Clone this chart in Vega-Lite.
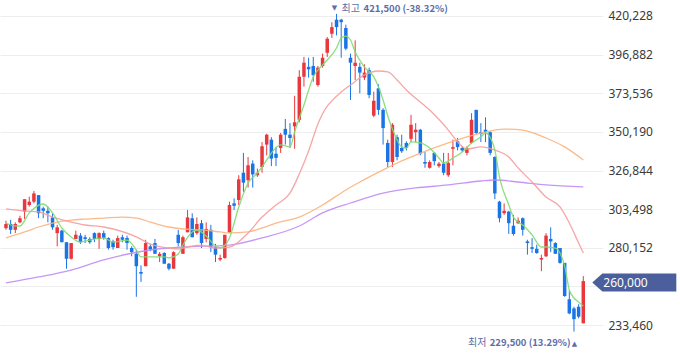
{
  "$schema": "https://vega.github.io/schema/vega-lite/v6.json",
  "width": 603,
  "height": 340,
  "autosize": {"type": "none"},
  "padding": {"left": 0, "top": 0, "right": 77, "bottom": 18},
  "background": "white",
  "config": {
    "view": {"stroke": null},
    "axis": {"title": null}
  },
  "datasets": {
    "candles": [
      {"i":0,"o":292000,"h":296500,"l":291000,"c":294500},
      {"i":1,"o":294500,"h":297000,"l":288500,"c":291000},
      {"i":2,"o":291000,"h":295500,"l":289000,"c":294500},
      {"i":3,"o":295500,"h":299500,"l":295000,"c":298000},
      {"i":4,"o":302000,"h":309500,"l":297500,"c":309500},
      {"i":5,"o":306000,"h":311000,"l":305000,"c":308000},
      {"i":6,"o":308000,"h":314500,"l":307000,"c":313000},
      {"i":7,"o":312000,"h":312000,"l":298000,"c":301000},
      {"i":8,"o":304000,"h":305000,"l":298000,"c":302500},
      {"i":9,"o":302500,"h":305000,"l":295500,"c":301000},
      {"i":10,"o":298500,"h":301000,"l":291000,"c":292500},
      {"i":11,"o":289000,"h":294000,"l":281000,"c":292500},
      {"i":12,"o":290500,"h":291000,"l":283500,"c":283500},
      {"i":13,"o":283500,"h":283500,"l":267500,"c":273500},
      {"i":14,"o":273500,"h":283000,"l":273000,"c":283000},
      {"i":15,"o":285500,"h":290500,"l":285500,"c":288000},
      {"i":16,"o":287500,"h":289000,"l":282500,"c":283500},
      {"i":17,"o":286500,"h":288000,"l":283000,"c":285500},
      {"i":18,"o":285500,"h":286500,"l":282500,"c":283500},
      {"i":19,"o":289000,"h":289500,"l":283500,"c":285500},
      {"i":20,"o":285500,"h":289500,"l":279500,"c":289000},
      {"i":21,"o":289000,"h":290500,"l":285000,"c":286000},
      {"i":22,"o":286000,"h":286500,"l":279000,"c":280000},
      {"i":23,"o":284000,"h":285000,"l":279000,"c":280500},
      {"i":24,"o":280000,"h":287500,"l":280000,"c":286000},
      {"i":25,"o":286500,"h":288000,"l":283500,"c":285000},
      {"i":26,"o":286000,"h":287500,"l":279000,"c":283000},
      {"i":27,"o":280000,"h":281000,"l":275000,"c":277500},
      {"i":28,"o":276500,"h":279000,"l":250500,"c":269000},
      {"i":29,"o":265500,"h":269500,"l":259500,"c":264500},
      {"i":30,"o":269000,"h":285000,"l":269000,"c":283000},
      {"i":31,"o":281000,"h":282500,"l":278000,"c":279000},
      {"i":32,"o":283000,"h":285500,"l":276500,"c":276500},
      {"i":33,"o":275000,"h":277500,"l":271500,"c":276500},
      {"i":34,"o":277000,"h":277500,"l":270500,"c":270500},
      {"i":35,"o":270500,"h":271000,"l":266500,"c":267500},
      {"i":36,"o":267500,"h":278000,"l":267500,"c":277500},
      {"i":37,"o":288000,"h":291000,"l":281000,"c":283000},
      {"i":38,"o":276500,"h":287500,"l":276500,"c":286500},
      {"i":39,"o":289500,"h":303000,"l":289500,"c":298500},
      {"i":40,"o":298000,"h":301000,"l":286500,"c":286500},
      {"i":41,"o":289000,"h":298500,"l":288000,"c":294500},
      {"i":42,"o":295000,"h":297000,"l":280000,"c":283000},
      {"i":43,"o":285500,"h":295500,"l":283500,"c":291500},
      {"i":44,"o":291000,"h":294000,"l":277500,"c":280500},
      {"i":45,"o":280500,"h":282500,"l":271500,"c":276000},
      {"i":46,"o":273000,"h":276000,"l":272000,"c":274000},
      {"i":47,"o":274000,"h":288000,"l":273500,"c":288000},
      {"i":48,"o":289500,"h":308000,"l":289000,"c":306000},
      {"i":49,"o":307000,"h":310000,"l":303000,"c":305500},
      {"i":50,"o":309000,"h":324000,"l":306000,"c":321500},
      {"i":51,"o":325500,"h":337500,"l":314000,"c":319500},
      {"i":52,"o":321000,"h":335000,"l":316500,"c":330000},
      {"i":53,"o":331000,"h":333000,"l":316500,"c":324500},
      {"i":54,"o":324000,"h":328000,"l":323000,"c":325500},
      {"i":55,"o":329000,"h":344000,"l":325500,"c":341500},
      {"i":56,"o":342500,"h":349000,"l":336000,"c":348500},
      {"i":57,"o":345500,"h":347000,"l":329500,"c":334000},
      {"i":58,"o":337000,"h":341000,"l":329500,"c":334500},
      {"i":59,"o":340500,"h":349500,"l":337500,"c":348500},
      {"i":60,"o":352000,"h":358000,"l":342500,"c":348500},
      {"i":61,"o":348500,"h":355500,"l":340500,"c":346500},
      {"i":62,"o":353500,"h":372000,"l":340000,"c":356000},
      {"i":63,"o":357500,"h":387500,"l":356000,"c":383500},
      {"i":64,"o":383500,"h":395500,"l":377500,"c":392000},
      {"i":65,"o":389500,"h":395000,"l":383000,"c":388000},
      {"i":66,"o":390000,"h":395500,"l":380500,"c":384500},
      {"i":67,"o":378500,"h":390000,"l":377500,"c":389000},
      {"i":68,"o":390000,"h":397500,"l":389000,"c":395000},
      {"i":69,"o":398000,"h":407500,"l":395500,"c":406500},
      {"i":70,"o":409500,"h":416500,"l":407000,"c":413500},
      {"i":71,"o":418000,"h":421500,"l":408500,"c":413500},
      {"i":72,"o":418000,"h":418500,"l":395000,"c":416500},
      {"i":73,"o":413000,"h":415000,"l":399500,"c":400500},
      {"i":74,"o":395000,"h":397500,"l":369500,"c":392000},
      {"i":75,"o":390000,"h":405500,"l":381500,"c":392000},
      {"i":76,"o":389500,"h":392000,"l":373500,"c":386000},
      {"i":77,"o":383000,"h":391000,"l":381500,"c":386000},
      {"i":78,"o":387500,"h":389000,"l":370500,"c":372500},
      {"i":79,"o":360000,"h":374500,"l":359000,"c":369000},
      {"i":80,"o":376500,"h":379000,"l":360500,"c":363500},
      {"i":81,"o":363500,"h":364500,"l":342500,"c":352500},
      {"i":82,"o":343500,"h":345500,"l":329000,"c":332000},
      {"i":83,"o":332000,"h":355500,"l":329000,"c":354500},
      {"i":84,"o":347000,"h":348500,"l":333000,"c":335000},
      {"i":85,"o":340500,"h":348500,"l":337500,"c":338500},
      {"i":86,"o":343500,"h":344500,"l":339000,"c":340500},
      {"i":87,"o":346000,"h":360500,"l":344000,"c":354500},
      {"i":88,"o":350000,"h":355500,"l":344000,"c":351500},
      {"i":89,"o":351500,"h":352000,"l":336000,"c":337000},
      {"i":90,"o":332000,"h":338000,"l":328500,"c":331000},
      {"i":91,"o":328500,"h":333000,"l":328000,"c":332000},
      {"i":92,"o":337500,"h":338000,"l":330000,"c":332500},
      {"i":93,"o":329500,"h":332000,"l":328500,"c":331000},
      {"i":94,"o":331000,"h":337500,"l":324000,"c":325500},
      {"i":95,"o":324000,"h":337500,"l":323000,"c":331500},
      {"i":96,"o":340000,"h":345500,"l":330000,"c":341000},
      {"i":97,"o":344500,"h":346500,"l":339000,"c":341000},
      {"i":98,"o":340500,"h":341500,"l":338000,"c":339000},
      {"i":99,"o":337500,"h":341500,"l":336000,"c":340500},
      {"i":100,"o":343500,"h":361500,"l":343000,"c":357500},
      {"i":101,"o":363500,"h":363500,"l":348500,"c":349500},
      {"i":102,"o":350000,"h":355500,"l":344000,"c":349000},
      {"i":103,"o":351500,"h":359000,"l":344000,"c":350000},
      {"i":104,"o":350000,"h":350500,"l":336000,"c":337500},
      {"i":105,"o":335000,"h":335500,"l":309500,"c":313000},
      {"i":106,"o":308000,"h":308500,"l":295500,"c":298000},
      {"i":107,"o":301000,"h":307000,"l":300000,"c":302500},
      {"i":108,"o":302000,"h":302500,"l":288500,"c":295000},
      {"i":109,"o":293500,"h":300000,"l":287500,"c":288500},
      {"i":110,"o":295000,"h":298500,"l":294500,"c":296500},
      {"i":111,"o":298000,"h":298500,"l":287500,"c":291000},
      {"i":112,"o":284000,"h":285000,"l":276000,"c":283000},
      {"i":113,"o":280500,"h":286000,"l":277000,"c":279500},
      {"i":114,"o":279500,"h":282000,"l":276500,"c":277000},
      {"i":115,"o":273000,"h":276000,"l":266000,"c":274000},
      {"i":116,"o":275000,"h":289000,"l":274500,"c":287500},
      {"i":117,"o":285500,"h":292500,"l":277500,"c":284000},
      {"i":118,"o":283000,"h":283500,"l":276500,"c":276500},
      {"i":119,"o":280000,"h":280000,"l":270500,"c":271000},
      {"i":120,"o":271000,"h":271000,"l":250500,"c":251000},
      {"i":121,"o":249000,"h":254500,"l":240000,"c":240500},
      {"i":122,"o":243500,"h":244500,"l":229500,"c":237000},
      {"i":123,"o":244500,"h":246000,"l":237500,"c":238500},
      {"i":124,"o":234500,"h":263000,"l":234500,"c":260000}
    ],
    "ma": [
      {"ma":"120","i":0,"v":258900},{"ma":"120","i":7,"v":262500},{"ma":"120","i":14,"v":266700},{"ma":"120","i":21,"v":272800},{"ma":"120","i":31,"v":278800},{"ma":"120","i":38,"v":280600},{"ma":"120","i":48,"v":281800},{"ma":"120","i":55,"v":286100},{"ma":"120","i":63,"v":293300},{"ma":"120","i":68,"v":301200},{"ma":"120","i":74,"v":307200},{"ma":"120","i":81,"v":313200},{"ma":"120","i":88,"v":316300},{"ma":"120","i":95,"v":318100},{"ma":"120","i":102,"v":320500},{"ma":"120","i":105,"v":321100},{"ma":"120","i":110,"v":319900},{"ma":"120","i":116,"v":318100},{"ma":"120","i":124,"v":316900},
      {"ma":"60","i":0,"v":286100},{"ma":"60","i":4,"v":289700},{"ma":"60","i":7,"v":292700},{"ma":"60","i":10,"v":295100},{"ma":"60","i":14,"v":296900},{"ma":"60","i":17,"v":297500},{"ma":"60","i":21,"v":298100},{"ma":"60","i":25,"v":298700},{"ma":"60","i":28,"v":298100},{"ma":"60","i":31,"v":295700},{"ma":"60","i":35,"v":292700},{"ma":"60","i":38,"v":291500},{"ma":"60","i":42,"v":290900},{"ma":"60","i":46,"v":289700},{"ma":"60","i":48,"v":289100},{"ma":"60","i":52,"v":289700},{"ma":"60","i":55,"v":292100},{"ma":"60","i":58,"v":295100},{"ma":"60","i":63,"v":298700},{"ma":"60","i":68,"v":306000},{"ma":"60","i":73,"v":315100},{"ma":"60","i":76,"v":319900},{"ma":"60","i":81,"v":327200},{"ma":"60","i":84,"v":331400},{"ma":"60","i":88,"v":336200},{"ma":"60","i":95,"v":343500},{"ma":"60","i":102,"v":349500},{"ma":"60","i":107,"v":351900},{"ma":"60","i":111,"v":351300},{"ma":"60","i":116,"v":346500},{"ma":"60","i":120,"v":341100},{"ma":"60","i":124,"v":333200},
      {"ma":"20","i":0,"v":303600},{"ma":"20","i":4,"v":302400},{"ma":"20","i":7,"v":301800},{"ma":"20","i":10,"v":298700},{"ma":"20","i":14,"v":295700},{"ma":"20","i":17,"v":293900},{"ma":"20","i":21,"v":292700},{"ma":"20","i":28,"v":286700},{"ma":"20","i":31,"v":282400},{"ma":"20","i":35,"v":280000},{"ma":"20","i":37,"v":279400},{"ma":"20","i":39,"v":280600},{"ma":"20","i":42,"v":281800},{"ma":"20","i":45,"v":280000},{"ma":"20","i":48,"v":280600},{"ma":"20","i":52,"v":289100},{"ma":"20","i":55,"v":298700},{"ma":"20","i":58,"v":306000},{"ma":"20","i":61,"v":313200},{"ma":"20","i":63,"v":324700},{"ma":"20","i":65,"v":338600},{"ma":"20","i":67,"v":355000},{"ma":"20","i":69,"v":365800},{"ma":"20","i":70,"v":368900},{"ma":"20","i":72,"v":374300},{"ma":"20","i":74,"v":378500},{"ma":"20","i":77,"v":384600},{"ma":"20","i":80,"v":387000},{"ma":"20","i":82,"v":386400},{"ma":"20","i":84,"v":381500},{"ma":"20","i":86,"v":375500},{"ma":"20","i":91,"v":363400},{"ma":"20","i":95,"v":351300},{"ma":"20","i":97,"v":344100},{"ma":"20","i":99,"v":339800},{"ma":"20","i":102,"v":341100},{"ma":"20","i":105,"v":339200},{"ma":"20","i":108,"v":335000},{"ma":"20","i":110,"v":328400},{"ma":"20","i":113,"v":319900},{"ma":"20","i":116,"v":310800},{"ma":"20","i":119,"v":304800},{"ma":"20","i":121,"v":295100},{"ma":"20","i":123,"v":283000},{"ma":"20","i":124,"v":277000},
      {"ma":"5","i":0,"v":295100},{"ma":"5","i":2,"v":293300},{"ma":"5","i":3,"v":293300},{"ma":"5","i":5,"v":301200},{"ma":"5","i":8,"v":306600},{"ma":"5","i":10,"v":301200},{"ma":"5","i":12,"v":292100},{"ma":"5","i":14,"v":286700},{"ma":"5","i":16,"v":283600},{"ma":"5","i":18,"v":284800},{"ma":"5","i":21,"v":286100},{"ma":"5","i":23,"v":283600},{"ma":"5","i":26,"v":284800},{"ma":"5","i":28,"v":278800},{"ma":"5","i":29,"v":274600},{"ma":"5","i":31,"v":274600},{"ma":"5","i":34,"v":274600},{"ma":"5","i":35,"v":274000},{"ma":"5","i":37,"v":276400},{"ma":"5","i":38,"v":281800},{"ma":"5","i":40,"v":289700},{"ma":"5","i":41,"v":290900},{"ma":"5","i":43,"v":287300},{"ma":"5","i":45,"v":281200},{"ma":"5","i":46,"v":280000},{"ma":"5","i":48,"v":286100},{"ma":"5","i":50,"v":304800},{"ma":"5","i":52,"v":319300},{"ma":"5","i":54,"v":325300},{"ma":"5","i":56,"v":333200},{"ma":"5","i":57,"v":337400},{"ma":"5","i":59,"v":342300},{"ma":"5","i":61,"v":341100},{"ma":"5","i":62,"v":350100},{"ma":"5","i":64,"v":366400},{"ma":"5","i":66,"v":383400},{"ma":"5","i":68,"v":390600},{"ma":"5","i":71,"v":400900},{"ma":"5","i":72,"v":406900},{"ma":"5","i":73,"v":408100},{"ma":"5","i":74,"v":405700},{"ma":"5","i":75,"v":398500},{"ma":"5","i":77,"v":389400},{"ma":"5","i":79,"v":383400},{"ma":"5","i":81,"v":369500},{"ma":"5","i":82,"v":359800},{"ma":"5","i":83,"v":351900},{"ma":"5","i":85,"v":341100},{"ma":"5","i":86,"v":340400},{"ma":"5","i":87,"v":344100},{"ma":"5","i":89,"v":343500},{"ma":"5","i":91,"v":340400},{"ma":"5","i":93,"v":334400},{"ma":"5","i":94,"v":331400},{"ma":"5","i":96,"v":334400},{"ma":"5","i":98,"v":338000},{"ma":"5","i":100,"v":343500},{"ma":"5","i":102,"v":347100},{"ma":"5","i":103,"v":349500},{"ma":"5","i":105,"v":339200},{"ma":"5","i":106,"v":322900},{"ma":"5","i":108,"v":306000},{"ma":"5","i":109,"v":298700},{"ma":"5","i":110,"v":295700},{"ma":"5","i":111,"v":293900},{"ma":"5","i":113,"v":287900},{"ma":"5","i":115,"v":280600},{"ma":"5","i":116,"v":280600},{"ma":"5","i":118,"v":280000},{"ma":"5","i":119,"v":277000},{"ma":"5","i":120,"v":269100},{"ma":"5","i":121,"v":254600},{"ma":"5","i":122,"v":249800},{"ma":"5","i":123,"v":247400},{"ma":"5","i":124,"v":244900}
    ]
  },
  "layer": [
    {
      "data": {"name": "candles"},
      "mark": {"type": "rule", "strokeWidth": 1},
      "encoding": {
        "x": {"field": "i", "type": "quantitative", "scale": {"domain": [-0.21, 127.16], "nice": false, "zero": false}, "axis": null},
        "y": {"field": "l", "type": "quantitative", "scale": {"domain": [224402, 429898], "nice": false, "zero": false},
          "axis": {"orient": "right", "values": [233460, 256806, 280152, 303498, 326844, 350190, 373536, 396882, 420228], "format": ",d", "labelExpr": "datum.value == 256806 ? '' : datum.label", "grid": true, "gridColor": "#eeeeee", "gridWidth": 1, "domain": false, "ticks": false, "labelPadding": 5, "labelFont": "Noto Sans", "labelFontSize": 12, "labelColor": "#3a3a3a", "labelAlign": "left", "labelBaseline": "middle", "title": null}},
        "y2": {"field": "h"},
        "color": {"condition": {"test": "datum.c > datum.o", "value": "#e8383d"}, "value": "#1a74e6"}
      }
    },
    {
      "data": {"name": "candles"},
      "mark": {"type": "bar", "width": 3.5},
      "encoding": {
        "x": {"field": "i", "type": "quantitative", "axis": null},
        "y": {"field": "o", "type": "quantitative", "title": null},
        "y2": {"field": "c"},
        "color": {"condition": {"test": "datum.c > datum.o", "value": "#e8383d"}, "value": "#1a74e6"}
      }
    },
    {
      "data": {"name": "ma"},
      "mark": {"type": "line", "strokeWidth": 1.3, "interpolate": "monotone", "opacity": 0.9},
      "encoding": {
        "x": {"field": "i", "type": "quantitative", "axis": null},
        "y": {"field": "v", "type": "quantitative", "title": null},
        "color": {"field": "ma", "type": "nominal", "scale": {"domain": ["120", "60", "20", "5"], "range": ["#c08cf5", "#fbb37c", "#f59c9c", "#7edb70"]}, "legend": null},
        "order": {"field": "i", "type": "quantitative"}
      }
    },
    {
      "data": {"values": [{"i": 124, "v": 260000}]},
      "mark": {"type": "point", "shape": "M -1 0 L -0.76 -0.214 L 1 -0.214 L 1 0.214 L -0.76 0.214 Z", "size": 7056, "filled": true, "fill": "#4a5f9b", "opacity": 1, "strokeWidth": 0, "xOffset": 51, "yOffset": 1.5},
      "encoding": {
        "x": {"field": "i", "type": "quantitative", "axis": null},
        "y": {"field": "v", "type": "quantitative", "title": null}
      }
    },
    {
      "data": {"values": [{"i": 124, "v": 260000, "label": "260,000"}]},
      "mark": {"type": "text", "align": "left", "baseline": "middle", "dx": 20, "dy": 1.5, "color": "#ffffff", "font": "Noto Sans", "fontSize": 12},
      "encoding": {
        "x": {"field": "i", "type": "quantitative", "axis": null},
        "y": {"field": "v", "type": "quantitative", "title": null},
        "text": {"field": "label"}
      }
    },
    {
      "data": {"values": [{"i": 71, "v": 421500, "label": "▼"}]},
      "mark": {"type": "text", "align": "center", "baseline": "middle", "dx": -2, "dy": -6, "color": "#5b6ea8", "font": "DejaVu Sans", "fontSize": 7},
      "encoding": {
        "x": {"field": "i", "type": "quantitative", "axis": null},
        "y": {"field": "v", "type": "quantitative", "title": null},
        "text": {"field": "label"}
      }
    },
    {
      "data": {"values": [{"i": 71, "v": 421500, "label": "최고"}]},
      "mark": {"type": "text", "align": "left", "baseline": "middle", "dx": 5, "dy": -5, "color": "#5b6ea8", "font": "Noto Sans CJK KR", "fontSize": 10},
      "encoding": {
        "x": {"field": "i", "type": "quantitative", "axis": null},
        "y": {"field": "v", "type": "quantitative", "title": null},
        "text": {"field": "label"}
      }
    },
    {
      "data": {"values": [{"i": 71, "v": 421500, "label": "421,500 (-38.32%)"}]},
      "mark": {"type": "text", "align": "left", "baseline": "middle", "dx": 27, "dy": -5, "color": "#5b6ea8", "font": "Noto Sans CJK KR", "fontSize": 9.5, "fontWeight": "bold"},
      "encoding": {
        "x": {"field": "i", "type": "quantitative", "axis": null},
        "y": {"field": "v", "type": "quantitative", "title": null},
        "text": {"field": "label"}
      }
    },
    {
      "data": {"values": [{"i": 122, "v": 229500, "label": "229,500 (13.29%)"}]},
      "mark": {"type": "text", "align": "right", "baseline": "middle", "dx": -3.5, "dy": 11.5, "color": "#5b6ea8", "font": "Noto Sans CJK KR", "fontSize": 9.5, "fontWeight": "bold"},
      "encoding": {
        "x": {"field": "i", "type": "quantitative", "axis": null},
        "y": {"field": "v", "type": "quantitative", "title": null},
        "text": {"field": "label"}
      }
    },
    {
      "data": {"values": [{"i": 122, "v": 229500, "label": "▲"}]},
      "mark": {"type": "text", "align": "center", "baseline": "middle", "dx": 0.5, "dy": 12, "color": "#5b6ea8", "font": "DejaVu Sans", "fontSize": 7},
      "encoding": {
        "x": {"field": "i", "type": "quantitative", "axis": null},
        "y": {"field": "v", "type": "quantitative", "title": null},
        "text": {"field": "label"}
      }
    },
    {
      "data": {"values": [{"i": 122, "v": 229500, "label": "최저"}]},
      "mark": {"type": "text", "align": "right", "baseline": "middle", "dx": -87.5, "dy": 11.5, "color": "#5b6ea8", "font": "Noto Sans CJK KR", "fontSize": 10},
      "encoding": {
        "x": {"field": "i", "type": "quantitative", "axis": null},
        "y": {"field": "v", "type": "quantitative", "title": null},
        "text": {"field": "label"}
      }
    }
  ]
}
